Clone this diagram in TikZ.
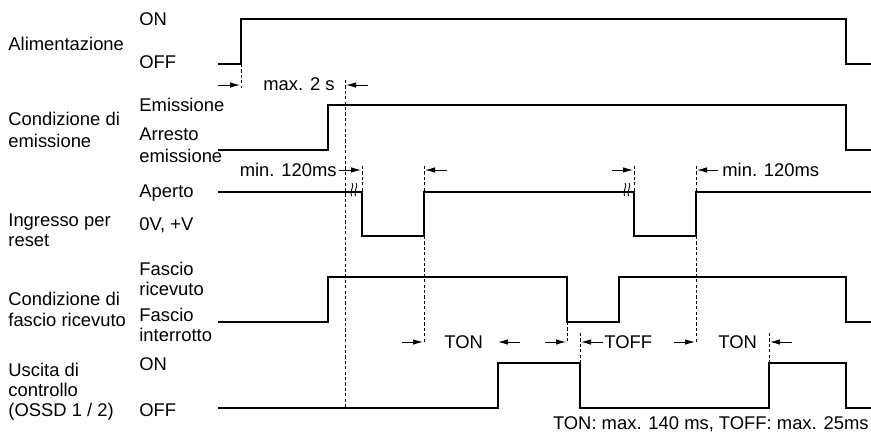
\documentclass[tikz,border=0pt]{standalone}
\usepackage{fontspec}
\setmainfont{Liberation Sans}
\usetikzlibrary{arrows.meta}
\begin{document}
\begin{tikzpicture}[x=0.5pt,y=-0.5pt,>={Latex[length=5pt,width=2.8pt]},
    sig/.style={line width=0.75pt},
    dsh/.style={line width=0.5pt,dash pattern=on 1.6pt off 1.1pt},
    dim/.style={->,line width=0.5pt},
    lbl/.style={anchor=base west,inner sep=0pt,font=\fontsize{9.2}{11}\selectfont}]
    \useasboundingbox (0,0) rectangle (871,434);
    % signal names
    \node[lbl] (alim) at (8,50) {Alimentazione};
    \node[lbl] (emA) at (8,125) {Condizione di};
    \node[lbl] (emB) at (8,147) {emissione};
    \node[lbl] (rstA) at (8,226) {Ingresso per};
    \node[lbl] (rstB) at (8,246) {reset};
    \node[lbl] (fscA) at (8,305) {Condizione di};
    \node[lbl] (fscB) at (8,326) {fascio ricevuto};
    \node[lbl] (outA) at (8,376) {Uscita di};
    \node[lbl] (outB) at (8,396) {controllo};
    \node[lbl] (outC) at (8,416) {(OSSD 1 / 2)};
    % levels
    \node[lbl] (alimOn) at (139,25) {ON};
    \node[lbl] (alimOff) at (139,68) {OFF};
    \node[lbl] (emOn) at (139,111) {Emissione};
    \node[lbl] (emOffA) at (139,140) {Arresto};
    \node[lbl] (emOffB) at (139,162) {emissione};
    \node[lbl] (rstOn) at (139,197) {Aperto};
    \node[lbl] (rstOff) at (139,230) {0V, +V};
    \node[lbl] (fscOnA) at (139,275) {Fascio};
    \node[lbl] (fscOnB) at (139,295) {ricevuto};
    \node[lbl] (fscOffA) at (139,321) {Fascio};
    \node[lbl] (fscOffB) at (139,341) {interrotto};
    \node[lbl] (outOn) at (139,370) {ON};
    \node[lbl] (outOff) at (139,416) {OFF};
    % waveforms
    \draw[sig] (218,64) -- (241,64) -- (241,19) -- (846,19) -- (846,64) -- (871,64);
    \draw[sig] (218,150) -- (328,150) -- (328,105) -- (846,105) -- (846,150) -- (871,150);
    \draw[sig] (218,192) -- (362,192) -- (362,236) -- (424,236) -- (424,192) -- (634,192)
      -- (634,236) -- (696,236) -- (696,192) -- (871,192);
    \draw[sig] (218,322) -- (328,322) -- (328,277) -- (567,277) -- (567,322) -- (619,322)
      -- (619,277) -- (846,277) -- (846,322) -- (871,322);
    \draw[sig] (218,408) -- (498,408) -- (498,363) -- (580,363) -- (580,408) -- (769,408)
      -- (769,363) -- (846,363) -- (846,408) -- (871,408);
    % break marks
    \foreach \x in {352,625} {
      \foreach \d in {0,4} {
        \draw[line width=0.45pt] (\x+\d,183) .. controls (\x+\d+3,186) and (\x+\d-3,191) .. (\x+\d-0.5,196);
      }
    }
    % guide lines
    \draw[dsh] (241,64) -- (241,88);
    \draw[dsh] (345,80) -- (345,408);
    \foreach \x in {362,424,634,696} { \draw[dsh] (\x,166) -- (\x,192); }
    \draw[dsh] (424,236) -- (424,343);
    \draw[dsh] (696,236) -- (696,343);
    \draw[dsh] (567,322) -- (567,343);
    \draw[dsh] (580,333) -- (580,363);
    \draw[dsh] (769,333) -- (769,363);
    % timings
    \draw[dim] (218,85) -- (240,85);
    \node[lbl] (tmax) at (263,90) {max. 2 s};
    \draw[dim] (368,85) -- (346,85);
    \node[lbl,anchor=base east] (tminA) at (337,176) {min. 120ms};
    \draw[dim] (339,170) -- (361,170);
    \draw[dim] (447,170) -- (425,170);
    \draw[dim] (612,170) -- (633,170);
    \draw[dim] (718,170) -- (697,170);
    \node[lbl] (tminB) at (722,176) {min. 120ms};
    \draw[dim] (402,342) -- (423,342);
    \node[lbl] (tonA) at (444,348) {TON};
    \draw[dim] (520,342) -- (498,342);
    \draw[dim] (545,342) -- (566,342);
    \draw[dim] (603,342) -- (581,342);
    \node[lbl] (toff) at (604,348) {TOFF};
    \draw[dim] (674,342) -- (695,342);
    \node[lbl] (tonB) at (718,348) {TON};
    \draw[dim] (792,342) -- (770,342);
    \node[lbl,anchor=base east] (note) at (869,429) {TON: max. 140 ms, TOFF: max. 25ms};
\end{tikzpicture}
\end{document}
